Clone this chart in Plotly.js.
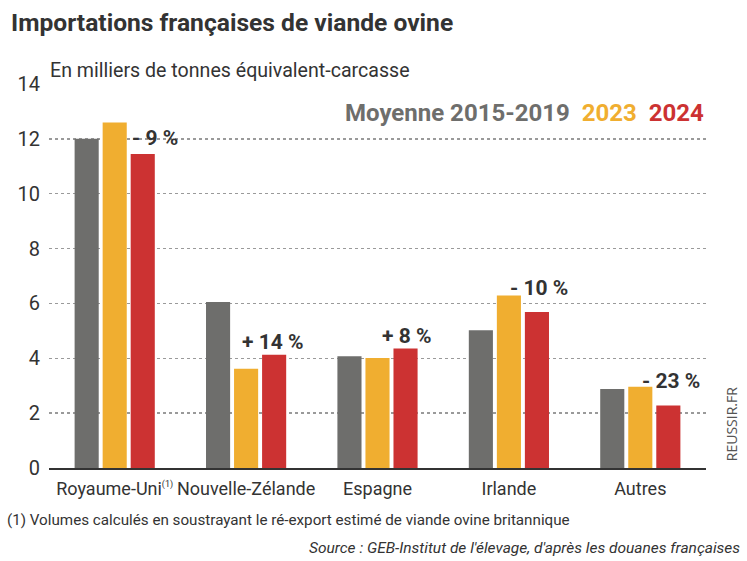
<!DOCTYPE html>
<html><head><meta charset="utf-8">
<script src="https://cdn.plot.ly/plotly-3.0.1.min.js"></script>
<style>html,body{margin:0;padding:0;background:#fff;}#chart{width:747px;height:561px;}</style>
</head><body><div id="chart"></div>
<script>
const categories = ["Royaume-Uni<sup><span style='font-size:9px'>(1)</span></sup>", "Nouvelle-Zélande", "Espagne", "Irlande", "Autres"];
const seriesNames = ["Moyenne 2015-2019", "2023", "2024"];
const moyenne = [12.0, 6.05, 4.07, 5.02, 2.88];
const y2023 = [12.6, 3.62, 4.01, 6.29, 2.96];
const y2024 = [11.45, 4.13, 4.36, 5.69, 2.28];
const changes = ["- 9 %", "+ 14 %", "+ 8 %", "- 10 %", "- 23 %"];
const yTicks = [0, 2, 4, 6, 8, 10, 12, 14];

const colors = ["#6e6e6c", "#f0ae30", "#cc3232"];
const font = "Roboto, 'Open Sans', sans-serif";

const xs = categories.map((c, i) => i);
const traces = [moyenne, y2023, y2024].map((v, k) => ({
  type: "bar", x: xs, y: v, name: seriesNames[k],
  marker: {color: colors[k]}, hoverinfo: "skip"
}));

// label placement (category units, value units)
const labX = [0.31, 1.205, 2.22, 3.23, 4.236];
const labY = [12.04, 4.58, 4.82, 6.57, 3.18];
const annotations = changes.map((t, i) => ({
  x: labX[i], y: labY[i], xref: "x", yref: "y",
  text: "<b>" + t + "</b>", showarrow: false, xanchor: "center", yanchor: "middle",
  font: {family: font, size: 21, color: "#333"}
}));

annotations.push(
  {xref: "paper", yref: "paper", x: -0.061, y: 1.161, xanchor: "left", yanchor: "middle", showarrow: false,
   text: "<b>Importations françaises de viande ovine</b>", font: {family: font, size: 24.6, color: "#333"}},
  {xref: "paper", yref: "paper", x: -0.002, y: 1.036, xanchor: "left", yanchor: "middle", showarrow: false,
   text: "En milliers de tonnes équivalent-carcasse", font: {family: font, size: 19.6, color: "#333"}},
  {xref: "paper", yref: "paper", x: 1.0, y: 0.924, xanchor: "right", yanchor: "middle", showarrow: false,
   text: "<b><span style='color:" + colors[0] + "'>" + seriesNames[0] + "</span>  <span style='color:" + colors[1] + "'>" + seriesNames[1] + "</span>  <span style='color:" + colors[2] + "'>" + seriesNames[2] + "</span></b>",
   font: {family: font, size: 24, color: "#333"}},
  {xref: "paper", yref: "paper", x: -0.067, y: -0.135, xanchor: "left", yanchor: "middle", showarrow: false,
   text: "(1) Volumes calculés en soustrayant le ré-export estimé de viande ovine britannique",
   font: {family: font, size: 15.2, color: "#333"}},
  {xref: "paper", yref: "paper", x: 1.055, y: -0.209, xanchor: "right", yanchor: "middle", showarrow: false,
   text: "<i>Source : GEB-Institut de l'élevage, d'après les douanes françaises</i>",
   font: {family: font, size: 15.5, color: "#333"}},
  {xref: "paper", yref: "paper", x: 1.039, y: 0.113, xanchor: "center", yanchor: "middle", showarrow: false,
   text: "REUSSIR.FR", textangle: -90, font: {family: "'Open Sans', sans-serif", size: 14, color: "#555"}}
);

const layout = {
  width: 747, height: 561,
  margin: {l: 49, r: 41, t: 84, b: 93},
  paper_bgcolor: "#fff", plot_bgcolor: "#fff",
  barmode: "group", bargap: 0.36, bargroupgap: 0.14,
  showlegend: false,
  xaxis: {
    range: [-0.5, 4.5], tickvals: xs, ticktext: categories, tickangle: 0,
    showline: true, linecolor: "#333", linewidth: 2, showgrid: false, zeroline: false, ticks: "",
    tickfont: {family: font, size: 18, color: "#333"}, ticklabelstandoff: 3, fixedrange: true
  },
  yaxis: {
    range: [0, 14], tickvals: yTicks, ticks: "", showline: false, zeroline: false,
    showgrid: true, gridcolor: "#9a9a9a", griddash: "dot", gridwidth: 1.5,
    tickfont: {family: font, size: 20, color: "#333"}, ticklabelstandoff: 8, fixedrange: true
  },
  annotations: annotations
};

Plotly.newPlot("chart", traces, layout, {displayModeBar: false, staticPlot: true});
</script></body></html>
